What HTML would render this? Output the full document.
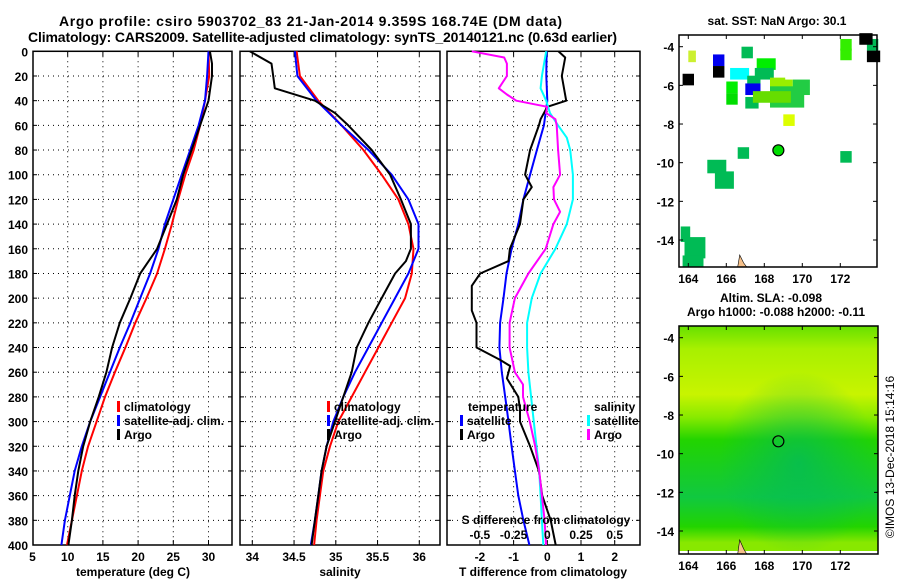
<!DOCTYPE html>
<html><head><meta charset="utf-8"><style>
html,body{margin:0;padding:0;background:#fff;}
svg{display:block;font-family:"Liberation Sans",sans-serif;font-weight:bold;}
</style></head><body>
<svg id="c" width="900" height="580" viewBox="0 0 900 580" xmlns="http://www.w3.org/2000/svg">
<text x="59" y="26" font-size="14" textLength="503">Argo profile: csiro 5903702_83 21-Jan-2014 9.359S 168.74E (DM data)</text>
<text x="28" y="42" font-size="14" textLength="589">Climatology: CARS2009. Satellite-adjusted climatology: synTS_20140121.nc (0.63d earlier)</text>
<g id="g"></g>
</svg>
<script>
// ---- data ----
const depths = [0,20,40,60,80,100,120,140,160,180,200,220,240,260,280,300,320,340,360,380,400];
const tempClim = [30.0,30.1,29.5,28.8,27.9,26.7,25.7,24.8,23.8,22.7,21.2,19.6,18.2,16.7,15.3,14.1,12.9,12.0,11.3,10.6,9.9];
const tempSat  = [30.0,29.8,29.5,28.6,27.4,26.2,25.0,23.8,22.9,21.7,20.3,18.9,17.4,16.0,14.6,13.2,12.0,11.0,10.3,9.6,9.1];
const argoDepthT = [0,10,20,40,60,80,100,120,140,160,170,180,200,220,240,260,280,300,320,340,360,380,400];
const tempArgo = [30.2,30.5,30.5,30.0,28.8,27.6,26.4,25.5,24.1,22.7,21.5,20.3,18.9,17.4,16.3,15.5,14.4,13.2,12.2,11.5,11.0,10.6,10.1];
const salClim = [34.53,34.57,34.79,35.07,35.33,35.55,35.75,35.87,35.93,35.91,35.83,35.67,35.51,35.35,35.19,35.03,34.93,34.85,34.81,34.77,34.74];
const salSat  = [34.51,34.54,34.77,35.07,35.39,35.67,35.87,35.99,35.99,35.87,35.71,35.55,35.39,35.23,35.09,34.97,34.89,34.83,34.79,34.75,34.70];
const argoDepthS = [0,10,20,30,40,50,60,80,100,120,140,160,170,180,200,220,240,260,280,300,320,340,360,380,400];
const salArgo = [33.97,34.23,34.25,34.27,34.75,34.99,35.15,35.43,35.65,35.78,35.90,35.90,35.84,35.71,35.55,35.39,35.25,35.19,35.09,34.99,34.89,34.83,34.79,34.75,34.71];
const tDiffSat = [-0.02,-0.03,0,-0.1,-0.31,-0.51,-0.71,-0.86,-1.06,-1.21,-1.3,-1.4,-1.42,-1.35,-1.25,-1.15,-1.06,-0.96,-0.86,-0.71,-0.53];
const argoDepthTD = [0,5,20,40,45,55,60,80,100,110,120,140,160,170,180,190,210,220,240,250,255,265,280,290,300,320,340,360,380,400];
const tDiffArgo = [0.33,0.53,0.43,0.56,0,-0.2,-0.25,-0.51,-0.66,-0.46,-0.71,-0.81,-1.11,-1.15,-1.99,-2.24,-2.24,-2.1,-2.1,-1.4,-1.1,-1.2,-0.86,-0.81,-0.81,-0.51,-0.25,-0.15,0.1,0.25];
const sDiffDepth = [0,20,30,40,50,60,70,80,100,120,140,160,180,200,220,240,260,280,300,320,340,360,380,400];
const sDiffSat = [-0.008,-0.04,-0.05,-0.008,0.02,0.08,0.145,0.17,0.19,0.19,0.145,0.06,-0.05,-0.115,-0.15,-0.15,-0.14,-0.12,-0.10,-0.08,-0.06,-0.05,-0.04,-0.03];
const argoDepthSD = [0,5,10,20,30,35,40,45,50,55,60,80,100,110,120,130,140,160,180,200,220,240,260,270,280,300,320,340,360,380,400];
const sDiffArgo = [-0.56,-0.32,-0.30,-0.30,-0.36,-0.30,-0.23,0.0,-0.01,0.06,0.07,0.08,0.095,0.045,0.05,0.095,0.045,-0.012,-0.14,-0.24,-0.28,-0.28,-0.24,-0.18,-0.18,-0.13,-0.09,-0.06,-0.04,-0.02,-0.01];
const depthTicks = [0,20,40,60,80,100,120,140,160,180,200,220,240,260,280,300,320,340,360,380,400];
const tempTicks = [5,10,15,20,25,30];
const salTicks = [34,34.5,35,35.5,36];
const tdTicks = [-2,-1,0,1,2];
const sdTicks = [-0.5,-0.25,0,0.25,0.5];
const latTicks = [-4,-6,-8,-10,-12,-14];
const lonTicks = [164,166,168,170,172];
// SST patches: [lon, lat, w(deg), h(deg), colour]
const sstLon = [164.0,165.3,166.8,167.6,166.2,167.1,167.5,166.0,168.3,168.9,168.3,169.5,172.0,173.4,172.0,173.4,173.0,163.7,165.3,166.0,167.0,167.0,167.4,169.0,166.6,165.0,165.4,163.6,163.8,163.7,172.0];
const sstLat = [-4.5,-4.7,-4.3,-4.9,-5.4,-5.8,-5.4,-6.1,-5.9,-6.0,-6.6,-6.1,-4.4,-4.5,-3.9,-3.9,-3.6,-5.7,-5.3,-6.7,-6.9,-6.2,-6.6,-7.8,-9.5,-10.2,-10.9,-13.7,-14.4,-15.1,-9.7];
const sstW = [0.4,0.6,0.6,1.0,1.0,0.7,1.0,0.6,0.8,0.6,1.8,0.9,0.6,0.7,0.6,0.6,0.7,0.6,0.6,0.6,0.7,0.8,2.0,0.6,0.6,1.0,1.0,0.5,1.1,1.1,0.6];
const sstH = [0.6,0.6,0.6,0.6,0.6,0.6,0.6,0.6,0.6,0.6,1.1,0.8,0.6,0.6,0.6,0.6,0.6,0.6,0.6,0.6,0.6,0.6,0.6,0.6,0.6,0.7,0.9,0.8,1.1,0.6,0.6];
const sstCol = ["#ccf030","#0000ee","#00bb55","#00ee00","#00ffff","#00bb55","#00bb55","#00ee00","#99ee00","#99ee00","#22cc44","#22cc44","#33ee00","#000000","#33ee00","#00bb55","#000000","#000000","#000000","#00dd00","#00bb55","#0000ee","#66dd00","#ddff00","#00bb55","#00bb55","#00bb55","#00bb55","#00bb55","#00bb55","#00bb55"];
const argoLon = 168.74, argoLat = -9.359;

// ---- helpers ----
const NS = "http://www.w3.org/2000/svg";
const G = document.getElementById('g');
function el(tag, attrs, parent){ const e=document.createElementNS(NS,tag); for(const k in attrs) e.setAttribute(k,attrs[k]); (parent||G).appendChild(e); return e; }
function txt(x,y,s,size,anchor){ const t=el('text',{x:x,y:y,'font-size':size||12,'text-anchor':anchor||'middle'}); t.textContent=s; return t; }

const top0=51.3, bot=545, yD = d => top0 + d*(bot-top0)/400;
const P1={l:33,r:232}, P2={l:240,r:440}, P3={l:447,r:640};
const xT = t => 32.5 + (t-5)*7.04;
const xS = s => 252.3 + (s-34)*83.5;
const xTD = v => 547.3 + v*33.7;
const xSD = v => 547.3 + v*4*33.7;

function frame(P,xs,xf,name){
  const g=el('g',{});
  
  
  depthTicks.forEach(d=>{ if(d>0&&d<400){ el('line',{x1:P.l,x2:P.r,y1:yD(d),y2:yD(d),stroke:'#000','stroke-width':1,'stroke-dasharray':'1,4'},g);
     el('line',{x1:P.l,x2:P.l+4,y1:yD(d),y2:yD(d),stroke:'#000'},g); el('line',{x1:P.r-4,x2:P.r,y1:yD(d),y2:yD(d),stroke:'#000'},g);} });
  xs.forEach(v=>{ const x=xf(v); if(x>P.l+1&&x<P.r-1){ el('line',{x1:x,x2:x,y1:top0,y2:bot,stroke:'#000','stroke-dasharray':'1,4'},g);
     el('line',{x1:x,x2:x,y1:top0,y2:top0+5,stroke:'#000'},g); el('line',{x1:x,x2:x,y1:bot-5,y2:bot,stroke:'#000'},g);} });
  el('rect',{x:P.l,y:top0,width:P.r-P.l,height:bot-top0,fill:'none',stroke:'#000','stroke-width':1.5},g);
  return g;
}
function line(xs,ds,xf,col,name,w){
  const pts=xs.map((v,i)=>xf(v).toFixed(1)+','+yD(ds[i]).toFixed(1)).join(' ');
  const p=el('polyline',{points:pts,fill:'none',stroke:col,'stroke-width':w||2,'stroke-linejoin':'round'});
  
  
}
function legItem(x,y,col,label,name){
  const r=el('rect',{x:x,y:y-10,width:3,height:11,fill:col});
  
  
  const t=txt(x+7,y,label,12,'start');
  
  
}

// ---- panel 1 ----
frame(P1,tempTicks,xT,'temperature-panel');
line(tempClim,depths,xT,'#ff0000','temp-climatology-line');
line(tempSat,depths,xT,'#0000ff','temp-satellite-line');
line(tempArgo,argoDepthT,xT,'#000000','temp-argo-line');
depthTicks.forEach(d=>{ const t=txt(28,yD(d)+5,String(d),12,'end');
  
   });
tempTicks.forEach(v=>{ const t=txt(xT(v),561,String(v),12);
  
   });
{ const t=txt(133,576,'temperature (deg C)',12);   }
legItem(117,411,'#ff0000','climatology','legend-climatology');
legItem(117,425,'#0000ff','satellite-adj. clim.','legend-satellite-adj');
legItem(117,439,'#000000','Argo','legend-argo');

// ---- panel 2 ----
frame(P2,salTicks,xS,'salinity-panel');
line(salClim,depths,xS,'#ff0000','sal-climatology-line');
line(salSat,depths,xS,'#0000ff','sal-satellite-line');
line(salArgo,argoDepthS,xS,'#000000','sal-argo-line');
salTicks.forEach(v=>{ const t=txt(xS(v),561,String(v),12);
  
   });
{ const t=txt(340,576,'salinity',12);   }
legItem(327,411,'#ff0000','climatology','legend2-climatology');
legItem(327,425,'#0000ff','satellite-adj. clim.','legend2-satellite-adj');
legItem(327,439,'#000000','Argo','legend2-argo');

// ---- panel 3 ----
frame(P3,tdTicks,xTD,'difference-panel');
line(tDiffSat,depths,xTD,'#0000ff','tdiff-satellite-line');
line(tDiffArgo,argoDepthTD,xTD,'#000000','tdiff-argo-line');
line(sDiffSat,sDiffDepth,xSD,'#00ffff','sdiff-satellite-line');
line(sDiffArgo,argoDepthSD,xSD,'#ff00ff','sdiff-argo-line');
tdTicks.forEach(v=>{ const t=txt(xTD(v),561,String(v),12);
  
   });
sdTicks.forEach(v=>{ const t=txt(xSD(v),539,String(v),12);
  
   });
{ const t=txt(546,524,'S difference from climatology',12);   }
{ const t=txt(543,576,'T difference from climatology',12);   }
{ const t=txt(468,411,'temperature',12,'start');   }
{ const t=txt(594,411,'salinity',12,'start');   }
legItem(460,425,'#0000ff','satellite','legend3-t-satellite');
legItem(460,439,'#000000','Argo','legend3-t-argo');
legItem(587,425,'#00ffff','satellite','legend3-s-satellite');
legItem(587,439,'#ff00ff','Argo','legend3-s-argo');

// ---- maps ----
const M1={l:679,r:877,t:35,b:267}, M2={l:679,r:878,t:326,b:554};
const lonX = lon => 688.3 + (lon-164)*19;
function latY(M,lat){ return M.t + 11.7 + (-4-lat)*19.33; }
// bottom map background
const defs=el('defs',{});
const lg=el('linearGradient',{id:'sla',x1:0,y1:0,x2:0,y2:1},defs);
[[0,'#66e000'],[0.1,'#a8f000'],[0.3,'#c8f400'],[0.4,'#88ea00'],[0.5,'#22d400'],[0.75,'#10c840'],[0.88,'#22d400'],[0.95,'#88e800'],[1,'#88e800']].forEach(s=>el('stop',{offset:s[0],'stop-color':s[1]},lg));
const rg=el('radialGradient',{id:'sla2',cx:0.6,cy:0.6,r:0.4},defs);
el('stop',{offset:0,'stop-color':'#00b860','stop-opacity':0.7},rg);
el('stop',{offset:1,'stop-color':'#00b860','stop-opacity':0},rg);

function mapFrame(M,name){
  const g=el('g',{});
  
  
  return g;
}
const g1=mapFrame(M1,'sst-map');
el('rect',{x:M1.l,y:M1.t,width:M1.r-M1.l,height:M1.b-M1.t,fill:'#fff'},g1);
sstLon.forEach((lon,i)=>{
  const r=el('rect',{x:lonX(lon),y:latY(M1,sstLat[i]+sstH[i]/2),width:sstW[i]*19,height:sstH[i]*19.33,fill:sstCol[i]},g1);
  
  
});
el('path',{d:`M${lonX(166.6)} ${M1.b} l2 -12 l4 8 l3 4 z`,fill:'#f5c08a',stroke:'#000','stroke-width':0.6},g1);
{ const c=el('circle',{cx:lonX(argoLon),cy:latY(M1,argoLat),r:5.5,fill:'#00dd00',stroke:'#000','stroke-width':1.2},g1);
    }
el('rect',{x:M1.l,y:M1.t,width:M1.r-M1.l,height:M1.b-M1.t,fill:'none',stroke:'#000','stroke-width':1.5},g1);

const g2=mapFrame(M2,'sla-map');
el('rect',{x:M2.l,y:M2.t,width:M2.r-M2.l,height:M2.b-M2.t,fill:'url(#sla)'},g2);
el('rect',{x:M2.l,y:M2.t,width:M2.r-M2.l,height:M2.b-M2.t,fill:'url(#sla2)'},g2);
el('rect',{x:M2.l,y:M2.b-3,width:M2.r-M2.l,height:3,fill:'#fff'},g2);
el('path',{d:`M${lonX(166.6)} ${M2.b} l2 -14 l4 9 l3 5 z`,fill:'#f5c08a',stroke:'#000','stroke-width':0.6},g2);
{ const c=el('circle',{cx:lonX(argoLon),cy:latY(M2,argoLat),r:5.5,fill:'none',stroke:'#000','stroke-width':1.2},g2);
    }
el('rect',{x:M2.l,y:M2.t,width:M2.r-M2.l,height:M2.b-M2.t,fill:'none',stroke:'#000','stroke-width':1.5},g2);

[M1,M2].forEach((M,mi)=>{
  latTicks.forEach(v=>{ const y=latY(M,v);
    el('line',{x1:M.l,x2:M.l+4,y1:y,y2:y,stroke:'#000'}); el('line',{x1:M.r-4,x2:M.r,y1:y,y2:y,stroke:'#000'});
    const t=txt(674,y+5,String(v),12,'end');
    
     });
  lonTicks.forEach(v=>{ const x=lonX(v);
    el('line',{x1:x,x2:x,y1:M.t,y2:M.t+4,stroke:'#000'}); el('line',{x1:x,x2:x,y1:M.b-4,y2:M.b,stroke:'#000'});
    const t=txt(x,M.b+16,String(v),12);
    
     });
});
{ const t=txt(777,25,'sat. SST: NaN Argo: 30.1',12);   }
{ const t=txt(771,302,'Altim. SLA: -0.098',12);   }
{ const t=txt(776,316,'Argo h1000: -0.088 h2000: -0.11',12);   }
{ const t=el('text',{x:0,y:0,'font-size':12,'font-weight':'normal','text-anchor':'middle',transform:'translate(894,457) rotate(-90)'}); t.textContent='©IMOS 13-Dec-2018 15:14:16';
    }
</script>
</body></html>
